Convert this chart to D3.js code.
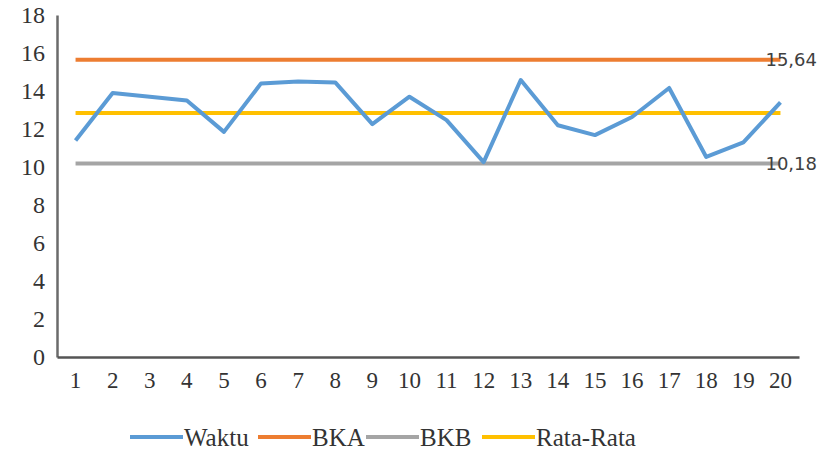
<!DOCTYPE html>
<html>
<head>
<meta charset="utf-8">
<script src="https://cdn.jsdelivr.net/npm/d3@7"></script>
<style>
body { margin: 0; background: #fff; }
</style>
</head>
<body>
<div id="chart"></div>
<script>
// data
var categories = ["1","2","3","4","5","6","7","8","9","10","11","12","13","14","15","16","17","18","19","20"];
var waktu = [11.4, 13.9, 13.7, 13.5, 11.85, 14.4, 14.5, 14.45, 12.26, 13.7, 12.47, 10.26, 14.58, 12.2, 11.68, 12.63, 14.16, 10.53, 11.3, 13.4];
var bka = 15.64;
var bkb = 10.18;
var rataRata = 12.84;
var yTicks = [0, 2, 4, 6, 8, 10, 12, 14, 16, 18];
var legendNames = ["Waktu", "BKA", "BKB", "Rata-Rata"];
var colors = ["#5b9bd5", "#ed7d31", "#a5a5a5", "#ffc000"];

var serif = "'Liberation Serif', 'Times New Roman', serif";
var width = 820, height = 450;
var margin = {top: 15, right: 21, bottom: 93, left: 57};

var svg = d3.select("#chart").append("svg")
	.attr("width", width)
	.attr("height", height);

var x = d3.scaleBand()
	.domain(categories)
	.range([margin.left, width - margin.right]);
var y = d3.scaleLinear()
	.domain([0, 18])
	.range([height - margin.bottom, margin.top]);

var cx = function(c){ return x(c) + x.bandwidth() / 2; };

// axes
var yAxis = svg.append("g")
	.attr("transform", "translate(" + margin.left + ",0)")
	.call(d3.axisLeft(y).tickValues(yTicks).tickSize(0).tickPadding(12));
yAxis.select(".domain").attr("stroke", "#6b6b6b").attr("stroke-width", 2.5);
yAxis.selectAll("text").style("font-family", serif).attr("font-size", 24).attr("fill", "#333");

var xAxis = svg.append("g")
	.attr("transform", "translate(0," + (height - margin.bottom) + ")")
	.call(d3.axisBottom(x).tickSize(0).tickPadding(15));
xAxis.select(".domain").attr("stroke", "#555").attr("stroke-width", 2.5);
xAxis.selectAll("text").style("font-family", serif).attr("font-size", 23).attr("fill", "#333");

// horizontal limit lines
var flat = [
	{name: "BKA", v: bka, color: colors[1], label: "15,64"},
	{name: "BKB", v: bkb, color: colors[2], label: "10,18"},
	{name: "Rata-Rata", v: rataRata, color: colors[3], label: null}
];
var flatLine = d3.line()
	.x(function(d){ return cx(d); });
flat.forEach(function(f){
	svg.append("path")
		.datum(categories)
		.attr("fill", "none")
		.attr("stroke", f.color)
		.attr("stroke-width", 4)
		.attr("d", flatLine.y(function(){ return y(f.v); }));
});

// waktu line
svg.append("path")
	.datum(waktu)
	.attr("fill", "none")
	.attr("stroke", colors[0])
	.attr("stroke-width", 4)
	.attr("stroke-linejoin", "round")
	.attr("d", d3.line()
		.x(function(d, i){ return cx(categories[i]); })
		.y(function(d){ return y(d); }));

// data labels
flat.filter(function(f){ return f.label; }).forEach(function(f){
	svg.append("text")
		.attr("x", cx(categories[categories.length - 1]) - 15)
		.attr("y", y(f.v))
		.attr("dy", "0.35em")
		.attr("font-size", 18)
		.attr("fill", "#404040")
		.style("font-family", "'DejaVu Sans', sans-serif")
		.text(f.label);
});

// legend
var legendX = [130, 258, 366, 482];
var legend = svg.append("g").attr("transform", "translate(0,437)");
legendNames.forEach(function(n, i){
	legend.append("line")
		.attr("x1", legendX[i]).attr("x2", legendX[i] + 53)
		.attr("y1", 0).attr("y2", 0)
		.attr("stroke", colors[i])
		.attr("stroke-width", 4);
	legend.append("text")
		.style("font-family", serif)
		.attr("x", legendX[i] + 54)
		.attr("y", 0)
		.attr("dy", "0.35em")
		.attr("font-size", 25)
		.attr("fill", "#333")
		.text(n);
});
</script>
</body>
</html>
